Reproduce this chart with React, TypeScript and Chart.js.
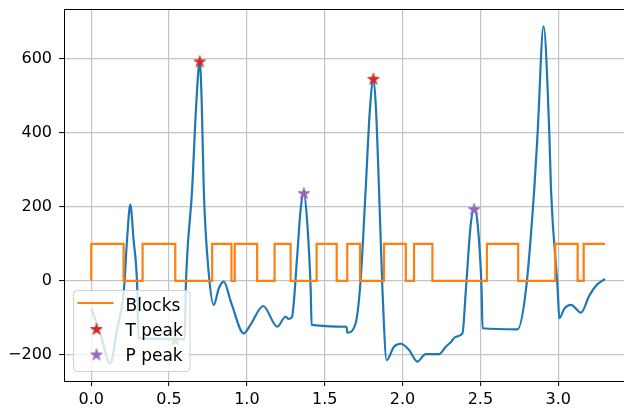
import React, { useEffect, useRef } from 'react';
import { Chart, registerables } from 'chart.js';

Chart.register(...registerables);

// ---- data ----
const signalX = [
  0, 0.058, 0.122, 0.165, 0.21, 0.23, 0.251, 0.272, 0.296, 0.303, 0.45, 0.6, 0.607,
  0.648, 0.675, 0.697, 0.71, 0.723, 0.755, 0.787, 0.82, 0.851, 0.9, 0.98, 1.023,
  1.105, 1.195, 1.248, 1.27, 1.29, 1.323, 1.345, 1.366, 1.388, 1.41, 1.416, 1.64,
  1.645, 1.699, 1.731, 1.763, 1.79, 1.813, 1.83, 1.849, 1.871, 1.898, 1.945, 1.99,
  2.042, 2.095, 2.149, 2.235, 2.278, 2.31, 2.342, 2.385, 2.407, 2.439, 2.46, 2.482,
  2.508, 2.514, 2.739, 2.793, 2.846, 2.868, 2.906, 2.943, 2.954, 2.997, 3.007,
  3.04, 3.082, 3.147, 3.2, 3.25, 3.301,
];
const signalY = [
  -74, -142, -223, -133, -24, 111, 206, 111, -24, -155, -157, -158, -24,
  246, 480, 593, 480, 246, 21, -65, -20, -2, -60, -142, -119,
  -68, -124, -97, -103, -97, 66, 192, 237, 156, -24, -119, -124,
  -140, -114, 3, 246, 460, 546, 460, 246, -24, -214, -178, -170,
  -187, -218, -198, -198, -178, -166, -151, -142, -24, 156, 194, 156,
  -24, -128, -131, -24, 246, 400, 688, 400, 246, -24, -101,
  -75, -65, -86, -40, -10, 5,
];

const blockX = [
  0, 0.208, 0.33, 0.54, 0.777, 0.901, 0.922, 1.066, 1.178, 1.281, 1.448, 1.577,
  1.645, 1.727, 1.881, 2.021, 2.074, 2.192, 2.542, 2.743, 2.981, 3.125, 3.164,
  3.216, 3.301,
];
const blockY = [
  0, 100, 0, 100, 0, 100, 0, 100, 0, 100, 0, 100,
  0, 100, 0, 100, 0, 100, 0, 100, 0, 100, 0,
  100, 100,
];

const tPeakX = [0.697, 1.813];
const tPeakY = [593, 546];
const pPeakX = [1.366, 2.46];
const pPeakY = [237, 194];
const qPeakX = [0.54];
const qPeakY = [-159];

const legendLabels = ['Blocks', 'T peak', 'P peak'];
const xTickValues = [0, 0.5, 1, 1.5, 2, 2.5, 3, 3.5];
const yTickValues = [-200, 0, 200, 400, 600];

const X_MIN = -0.175;
const X_MAX = 3.5;
const Y_MIN = -270.6;
const Y_MAX = 734.6;

const BLUE = '#1f77b4';
const ORANGE = '#ff7f0e';
const RED = '#d62728';
const PURPLE = '#9467bd';
const GREEN = '#2ca02c';
const FONT = '"DejaVu Sans", sans-serif';

function toPoints(xs: number[], ys: number[]) {
  return xs.map((x, i) => ({ x, y: ys[i] }));
}

function makeStar(color: string): HTMLCanvasElement {
  const size = 16;
  const c = document.createElement('canvas');
  c.width = size;
  c.height = size;
  const ctx = c.getContext('2d')!;
  const cx = size / 2;
  const cy = size / 2 + 0.5;
  const R = 6.2;
  const r = R * 0.382;
  ctx.beginPath();
  for (let k = 0; k < 10; k++) {
    const ang = -Math.PI / 2 + (k * Math.PI) / 5;
    const rad = k % 2 === 0 ? R : r;
    const px = cx + rad * Math.cos(ang);
    const py = cy + rad * Math.sin(ang);
    if (k === 0) ctx.moveTo(px, py);
    else ctx.lineTo(px, py);
  }
  ctx.closePath();
  ctx.fillStyle = color;
  ctx.fill();
  ctx.strokeStyle = color;
  ctx.lineWidth = 0.8;
  ctx.stroke();
  return c;
}

export default function App() {
  const canvasRef = useRef<HTMLCanvasElement | null>(null);

  useEffect(() => {
    const canvas = canvasRef.current;
    if (!canvas) return;
    const redStar = makeStar(RED);
    const purpleStar = makeStar(PURPLE);
    const greenStar = makeStar(GREEN);

    const overlayPlugin = {
      id: 'overlay',
      afterDraw(chart: any) {
        const { ctx, chartArea } = chart;
        ctx.save();
        // top spine
        ctx.strokeStyle = '#000';
        ctx.lineWidth = 1;
        const top = Math.round(chartArea.top) + 0.5;
        ctx.beginPath();
        ctx.moveTo(chartArea.left, top);
        ctx.lineTo(chartArea.right, top);
        ctx.stroke();

        // legend box
        const bx = 73.5, by = 290.5, bw = 116.5, bh = 81, rr = 4;
        ctx.beginPath();
        ctx.moveTo(bx + rr, by);
        ctx.lineTo(bx + bw - rr, by);
        ctx.quadraticCurveTo(bx + bw, by, bx + bw, by + rr);
        ctx.lineTo(bx + bw, by + bh - rr);
        ctx.quadraticCurveTo(bx + bw, by + bh, bx + bw - rr, by + bh);
        ctx.lineTo(bx + rr, by + bh);
        ctx.quadraticCurveTo(bx, by + bh, bx, by + bh - rr);
        ctx.lineTo(bx, by + rr);
        ctx.quadraticCurveTo(bx, by, bx + rr, by);
        ctx.closePath();
        ctx.fillStyle = 'rgba(255,255,255,0.8)';
        ctx.fill();
        ctx.strokeStyle = 'rgba(204,204,204,0.9)';
        ctx.lineWidth = 1;
        ctx.stroke();

        // entries
        ctx.strokeStyle = ORANGE;
        ctx.lineWidth = 2.2;
        ctx.beginPath();
        ctx.moveTo(77.5, 303);
        ctx.lineTo(113.5, 303);
        ctx.stroke();
        ctx.drawImage(redStar, 96.5 - 8, 329.5 - 8.5);
        ctx.drawImage(purpleStar, 96.5 - 8, 355 - 8.5);

        ctx.fillStyle = '#000';
        ctx.font = `17px ${FONT}`;
        ctx.textAlign = 'left';
        ctx.textBaseline = 'alphabetic';
        ctx.fillText(legendLabels[0], 125.5, 310.5);
        ctx.fillText(legendLabels[1], 125.5, 335.8);
        ctx.fillText(legendLabels[2], 125.5, 361);
        ctx.restore();
      },
    };

    const gridOpts = {
      color: '#c4c4c4',
      lineWidth: 1.2,
      drawTicks: true,
      tickLength: 5,
      tickColor: '#000',
      tickWidth: 1,
    };

    const chart = new Chart(canvas, {
      type: 'line',
      data: {
        datasets: [
          {
            label: 'T peak',
            data: toPoints(tPeakX, tPeakY),
            showLine: false,
            pointStyle: redStar as any,
            pointRadius: 5,
            borderColor: RED,
            backgroundColor: RED,
          },
          {
            label: 'P peak',
            data: toPoints(pPeakX, pPeakY),
            showLine: false,
            pointStyle: purpleStar as any,
            pointRadius: 5,
            borderColor: PURPLE,
            backgroundColor: PURPLE,
          },
          {
            label: 'Q peak',
            data: toPoints(qPeakX, qPeakY),
            showLine: false,
            pointStyle: greenStar as any,
            pointRadius: 5,
            borderColor: GREEN,
            backgroundColor: GREEN,
          },
          {
            label: 'Blocks',
            data: toPoints(blockX, blockY),
            stepped: 'after',
            borderColor: ORANGE,
            borderWidth: 2.2,
            pointRadius: 0,
            fill: false,
          },
          {
            label: 'Signal',
            data: toPoints(signalX, signalY),
            cubicInterpolationMode: 'monotone',
            borderColor: BLUE,
            borderWidth: 2.2,
            pointRadius: 0,
            fill: false,
          },
        ],
      },
      options: {
        animation: false,
        responsive: true,
        maintainAspectRatio: false,
        events: [],
        layout: { padding: { left: 0, top: 9, right: 24, bottom: 0 } },
        plugins: {
          legend: { display: false },
          tooltip: { enabled: false },
        },
        scales: {
          x: {
            type: 'linear',
            min: X_MIN,
            max: X_MAX,
            afterBuildTicks: (scale: any) => {
              scale.ticks = xTickValues.map((v) => ({ value: v }));
            },
            afterFit: (scale: any) => {
              scale.height = 29;
              scale.paddingLeft = 0;
              scale.paddingRight = 0;
              scale.paddingTop = 0;
              scale.paddingBottom = 0;
            },
            ticks: {
              autoSkip: false,
              maxRotation: 0,
              padding: 4,
              color: '#000',
              font: { family: FONT, size: 16 },
              callback: (v: any) => Number(v).toFixed(1),
            },
            grid: gridOpts,
            border: { display: true, color: '#000', width: 1 },
          },
          y: {
            type: 'linear',
            min: Y_MIN,
            max: Y_MAX,
            afterBuildTicks: (scale: any) => {
              scale.ticks = yTickValues.map((v) => ({ value: v }));
            },
            afterFit: (scale: any) => {
              scale.width = 64;
              scale.paddingLeft = 0;
              scale.paddingRight = 0;
              scale.paddingTop = 0;
              scale.paddingBottom = 0;
            },
            ticks: {
              autoSkip: false,
              padding: 7,
              color: '#000',
              font: { family: FONT, size: 16 },
              callback: (v: any) => {
                const n = Number(v);
                return n < 0 ? '\u2212' + Math.abs(n) : String(n);
              },
            },
            grid: gridOpts,
            border: { display: true, color: '#000', width: 1 },
          },
        },
      } as any,
      plugins: [overlayPlugin],
    });

    return () => chart.destroy();
  }, []);

  return (
    <div
      style={{
        position: 'fixed',
        left: 0,
        top: 0,
        width: 624,
        height: 410,
        overflow: 'hidden',
        background: '#fff',
      }}
    >
      <div style={{ position: 'relative', width: 660, height: 410 }}>
        <canvas ref={canvasRef} />
      </div>
    </div>
  );
}
